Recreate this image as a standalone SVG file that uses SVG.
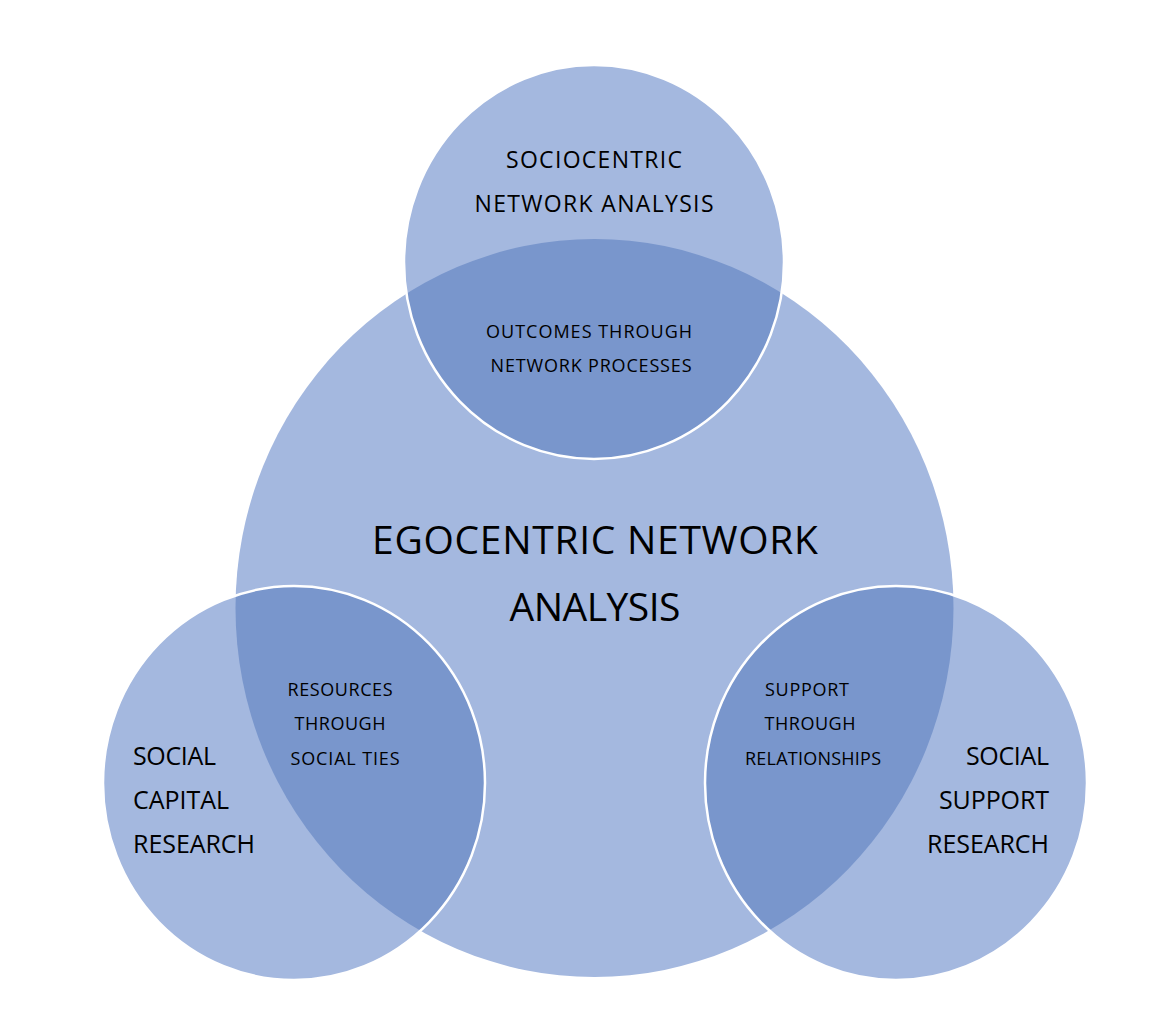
<svg xmlns="http://www.w3.org/2000/svg" width="1174" height="1020" viewBox="0 0 1174 1020">
<style>
.light{fill:#A4B8DF}
.dark{fill:#7996CC}
.edge{fill:none;stroke:#FFFFFF;stroke-width:2.5}
text{font-family:"Open Sans","Liberation Sans",sans-serif;fill:#000000}
.big{font-size:39px}
.mid{font-size:23px}
.lab{font-size:25px}
.sm{font-size:18px}
</style>
<defs>
<clipPath id="bigclip"><ellipse cx="594.5" cy="608" rx="359" ry="369"/></clipPath>
</defs>
<rect width="1174" height="1020" fill="#FFFFFF"/>
<g id="ego">
<ellipse class="light" cx="594.5" cy="608" rx="359" ry="369"/>
</g>
<g id="socio">
<ellipse class="light" cx="594" cy="262" rx="190" ry="197"/>
</g>
<g id="capital">
<ellipse class="light" cx="294" cy="783" rx="191" ry="197"/>
</g>
<g id="support">
<ellipse class="light" cx="896" cy="783" rx="191" ry="197"/>
</g>
<g id="overlaps" clip-path="url(#bigclip)">
<ellipse class="dark" cx="594" cy="262" rx="190" ry="197"/>
<ellipse class="dark" cx="294" cy="783" rx="191" ry="197"/>
<ellipse class="dark" cx="896" cy="783" rx="191" ry="197"/>
</g>
<g id="outlines">
<ellipse class="edge" cx="594" cy="262" rx="190" ry="197"/>
<ellipse class="edge" cx="294" cy="783" rx="191" ry="197"/>
<ellipse class="edge" cx="896" cy="783" rx="191" ry="197"/>
</g>
<g id="labels">
<text class="mid" x="594" y="168" text-anchor="middle" textLength="176">SOCIOCENTRIC</text>
<text class="mid" x="594" y="212" text-anchor="middle" textLength="239">NETWORK ANALYSIS</text>
<text class="sm" x="589" y="338" text-anchor="middle" textLength="206">OUTCOMES THROUGH</text>
<text class="sm" x="591" y="372" text-anchor="middle" textLength="201">NETWORK PROCESSES</text>
<text class="big" x="595" y="554" text-anchor="middle" textLength="446">EGOCENTRIC NETWORK</text>
<text class="big" x="595" y="621" text-anchor="middle" textLength="171">ANALYSIS</text>
<text class="lab" x="133" y="765" textLength="83">SOCIAL</text>
<text class="lab" x="133" y="809" textLength="96">CAPITAL</text>
<text class="lab" x="133" y="853" textLength="122">RESEARCH</text>
<text class="sm" x="340" y="696" text-anchor="middle" textLength="105">RESOURCES</text>
<text class="sm" x="340" y="730" text-anchor="middle" textLength="91">THROUGH</text>
<text class="sm" x="345" y="765" text-anchor="middle" textLength="109">SOCIAL TIES</text>
<text class="sm" x="807" y="696" text-anchor="middle" textLength="84">SUPPORT</text>
<text class="sm" x="810" y="730" text-anchor="middle" textLength="91">THROUGH</text>
<text class="sm" x="813" y="765" text-anchor="middle" textLength="136">RELATIONSHIPS</text>
<text class="lab" x="1049" y="765" text-anchor="end" textLength="83">SOCIAL</text>
<text class="lab" x="1049" y="809" text-anchor="end" textLength="110">SUPPORT</text>
<text class="lab" x="1049" y="853" text-anchor="end" textLength="122">RESEARCH</text>
</g>
</svg>
